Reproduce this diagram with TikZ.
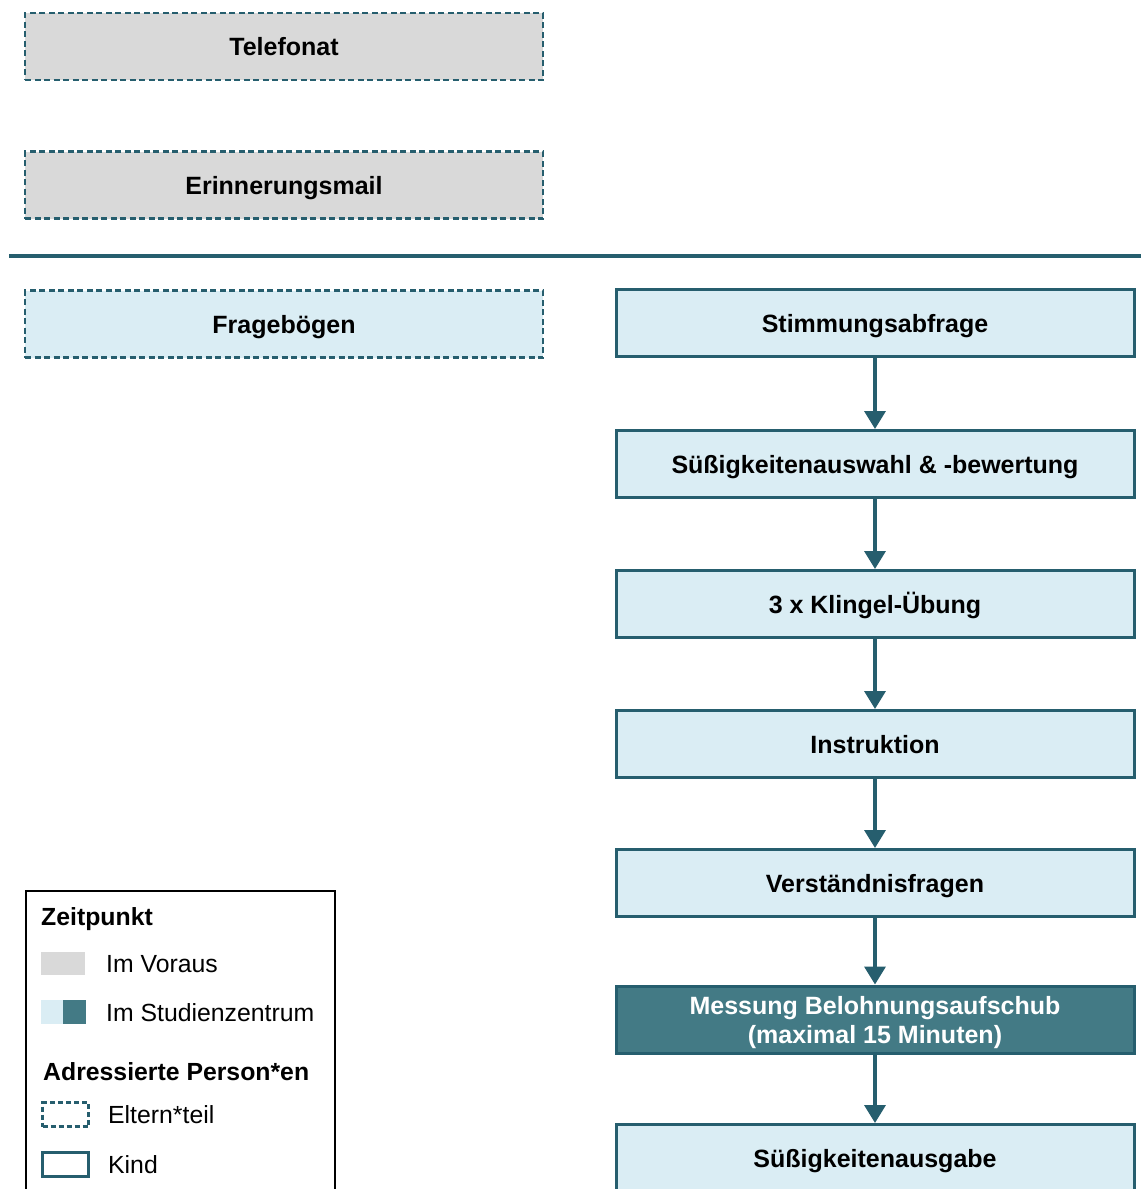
\documentclass[tikz,border=0pt]{standalone}
\usepackage{fontspec}
\setmainfont{Liberation Sans}
\usetikzlibrary{arrows.meta}
\definecolor{teal}{RGB}{38,94,110}
\definecolor{darkfill}{RGB}{67,122,133}
\definecolor{lightfill}{RGB}{218,237,244}
\definecolor{greyfill}{RGB}{217,217,217}
\tikzset{
  base/.style={minimum width=518pt, minimum height=67pt, inner sep=0pt, align=center,
    text height=18pt, text depth=0pt,
    font=\fontsize{25}{29}\selectfont\bfseries},
  parentbox/.style={base, draw=teal, line width=2.6pt, dash pattern=on 6pt off 3.5pt},
  kidbox/.style={base, draw=teal, line width=3pt},
  advance/.style={fill=greyfill},
  onsite/.style={fill=lightfill},
  measure/.style={fill=darkfill, text=white, text height=, text depth=},
  flow/.style={draw=teal, line width=3.5pt, -{Triangle[width=21pt,length=18pt]}},
  legtxt/.style={anchor=west, inner sep=0pt, text height=18pt, text depth=0pt, font=\fontsize{24.8}{29}\selectfont},
  leghead/.style={anchor=west, inner sep=0pt, text height=18pt, text depth=0pt, font=\fontsize{24.8}{29}\selectfont\bfseries},
}
\begin{document}
\begin{tikzpicture}[x=1pt,y=-1pt]
\useasboundingbox (0,0) rectangle (1141,1189);
\clip (0,0) rectangle (1141,1189);
\fill[white] (0,0) rectangle (1141,1189);
% left column
\node[parentbox,advance] (tel) at (284,46.5) {Telefonat};
\node[parentbox,advance] (mail) at (284,185) {Erinnerungsmail};
\coordinate (divL) at (9,256);
\coordinate (divR) at (1141,256);
\draw[teal, line width=4pt] (divL) -- (divR);
\node[parentbox,onsite] (frage) at (284,324) {Fragebögen};
% right column
\node[kidbox,onsite] (b1) at (875,323) {Stimmungsabfrage};
\node[kidbox,onsite] (b2) at (875,464) {Süßigkeitenauswahl \& -bewertung};
\node[kidbox,onsite] (b3) at (875,604) {3 x Klingel-Übung};
\node[kidbox,onsite] (b4) at (875,744) {Instruktion};
\node[kidbox,onsite] (b5) at (875,883) {Verständnisfragen};
\node[kidbox,measure] (b6) at (875,1019.5) {\rule{0pt}{25pt}Messung Belohnungsaufschub\\(maximal 15 Minuten)};
\node[kidbox,onsite] (b7) at (875,1158) {Süßigkeitenausgabe};
\draw[flow] (b1) -- (b2);
\draw[flow] (b2) -- (b3);
\draw[flow] (b3) -- (b4);
\draw[flow] (b4) -- (b5);
\draw[flow] (b5) -- (b6);
\draw[flow] (b6) -- (b7);
% legend
\node[draw=black, line width=1.5pt, anchor=north west, minimum width=309pt, minimum height=330pt, inner sep=0pt] (leg) at (25,890) {};
\node[leghead] (lz) at (41,916) {Zeitpunkt};
\node[fill=greyfill, minimum width=44pt, minimum height=23pt, inner sep=0pt] (sw1) at (63,963.5) {};
\node[legtxt] (t1) at (106,963) {Im Voraus};
\node[fill=lightfill, minimum width=22pt, minimum height=24pt, inner sep=0pt] (sw2a) at (52,1012) {};
\node[fill=darkfill, minimum width=23pt, minimum height=24pt, inner sep=0pt] (sw2b) at (74.5,1012) {};
\node[legtxt] (t2) at (106,1012) {Im Studienzentrum};
\node[leghead] (la) at (43,1071) {Adressierte Person*en};
\node[draw=teal, line width=2.2pt, dash pattern=on 5pt off 3pt, minimum width=46pt, minimum height=24pt, inner sep=0pt] (sw3) at (65.5,1114.5) {};
\node[legtxt] (t3) at (108,1114) {Eltern*teil};
\node[draw=teal, line width=3pt, minimum width=46pt, minimum height=24pt, inner sep=0pt] (sw4) at (65,1164) {};
\node[legtxt] (t4) at (108,1164) {Kind};
\end{tikzpicture}
\end{document}
